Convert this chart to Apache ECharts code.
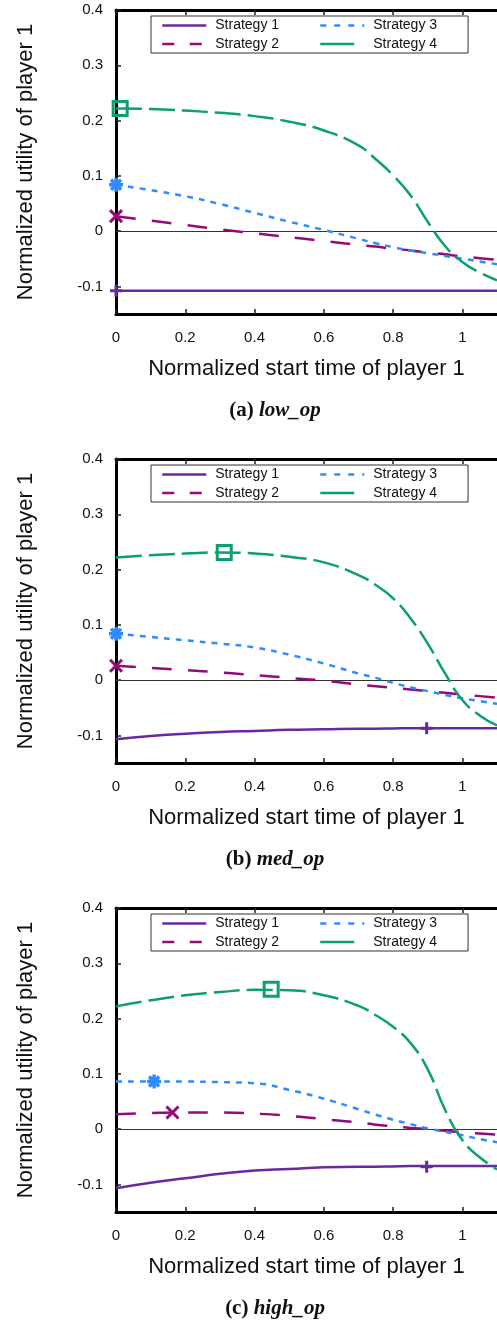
<!DOCTYPE html>
<html>
<head>
<meta charset="utf-8">
<title>Normalized utility of player 1</title>
<script src="https://cdn.jsdelivr.net/npm/echarts@6/dist/echarts.min.js"></script>
<style>
  html, body { margin: 0; padding: 0; background: #ffffff; }
  #chart { width: 497px; height: 1327px; }
</style>
</head>
<body>
<div id="chart"></div>
<script>
// Sample positions along the normalized start time axis (shared by every curve)
const startTimes = [0, 0.1, 0.2, 0.3, 0.4, 0.5, 0.6, 0.7, 0.75, 0.8, 0.85, 0.9, 0.95, 1.0, 1.05, 1.1];

// Tick labels
const xTickValues = [0, 0.2, 0.4, 0.6, 0.8, 1];
const yTickValues = [-0.1, 0, 0.1, 0.2, 0.3, 0.4];

const strategyNames = ['Strategy 1', 'Strategy 2', 'Strategy 3', 'Strategy 4'];

// (a) low_op
const lowS1 = [-0.108, -0.108, -0.108, -0.108, -0.108, -0.108, -0.108, -0.108, -0.108, -0.108, -0.108, -0.108, -0.108, -0.108, -0.108, -0.108];
const lowS2 = [0.027, 0.019, 0.011, 0.003, -0.004, -0.011, -0.018, -0.025, -0.028, -0.032, -0.035, -0.039, -0.042, -0.046, -0.049, -0.052];
const lowS3 = [0.084, 0.074, 0.063, 0.049, 0.033, 0.017, 0.002, -0.014, -0.022, -0.029, -0.035, -0.040, -0.045, -0.050, -0.055, -0.060];
const lowS4 = [0.222, 0.221, 0.218, 0.214, 0.208, 0.198, 0.182, 0.155, 0.130, 0.101, 0.065, 0.017, -0.027, -0.056, -0.075, -0.089];
// best start time of each strategy: [x, y] for strategies 1..4
const lowBest = [[0, -0.108], [0, 0.027], [0, 0.084], [0.012, 0.222]];

// (b) med_op
const medS1 = [-0.107, -0.101, -0.097, -0.094, -0.092, -0.090, -0.089, -0.088, -0.088, -0.0875, -0.087, -0.087, -0.087, -0.087, -0.087, -0.087];
const medS2 = [0.026, 0.022, 0.018, 0.014, 0.009, 0.004, -0.001, -0.008, -0.011, -0.014, -0.017, -0.020, -0.023, -0.026, -0.029, -0.032];
const medS3 = [0.084, 0.078, 0.072, 0.066, 0.059, 0.046, 0.030, 0.012, 0.004, -0.005, -0.013, -0.020, -0.027, -0.033, -0.038, -0.043];
const medS4 = [0.222, 0.226, 0.229, 0.231, 0.229, 0.223, 0.213, 0.190, 0.172, 0.148, 0.112, 0.066, 0.012, -0.036, -0.064, -0.082];
const medBest = [[0.897, -0.087], [0, 0.026], [0, 0.084], [0.3125, 0.231]];

// (c) high_op
const highS1 = [-0.107, -0.097, -0.089, -0.081, -0.075, -0.072, -0.069, -0.068, -0.068, -0.0675, -0.067, -0.067, -0.067, -0.067, -0.067, -0.067];
const highS2 = [0.027, 0.029, 0.030, 0.030, 0.028, 0.024, 0.018, 0.012, 0.008, 0.005, 0.002, 0.000, -0.003, -0.006, -0.008, -0.010];
const highS3 = [0.086, 0.086, 0.086, 0.085, 0.083, 0.071, 0.055, 0.036, 0.026, 0.017, 0.009, 0.001, -0.005, -0.011, -0.018, -0.024];
const highS4 = [0.222, 0.233, 0.242, 0.248, 0.252, 0.251, 0.242, 0.223, 0.206, 0.185, 0.156, 0.108, 0.035, -0.020, -0.051, -0.073];
const highBest = [[0.897, -0.068], [0.163, 0.030], [0.11, 0.086], [0.448, 0.253]];

const panels = [
  { tag: '(a) ', label: 'low_op',  curves: [lowS1, lowS2, lowS3, lowS4],     best: lowBest },
  { tag: '(b) ', label: 'med_op',  curves: [medS1, medS2, medS3, medS4],     best: medBest },
  { tag: '(c) ', label: 'high_op', curves: [highS1, highS2, highS3, highS4], best: highBest }
];

// ---- styling and layout ----
const SANS = 'Liberation Sans, Arial, sans-serif';
const SERIF = 'Liberation Serif, Times New Roman, serif';
const colors = ['#6a28a0', '#960a78', '#2f8cff', '#0aa073'];
const curveDash = ['solid', [20, 16], [6, 6], [26, 7]];
const legendDash = ['solid', [12, 15.5], [6, 8], [34, 20]];

// stroked marker shapes: plus, cross, asterisk, open square
const markerSymbols = [
  'path://M0,-5L0,5M-5,0L5,0',
  'path://M-5,-5L5,5M-5,5L5,-5',
  'path://M0,-6L0,6M-6,0L6,0M-4.3,-4.3L4.3,4.3M-4.3,4.3L4.3,-4.3',
  'path://M-6,-6L6,-6L6,6L-6,6Z'
];
const markerSizes = [12, 12, 14, 14];
const markerStroke = [3, 3, 3.5, 3];

const PANEL_STEP = 449;
const GRID_TOP = 10;
const GRID_LEFT = 116;
const GRID_W = 387;
const GRID_H = 304;
const captionTops = [400, 849, 1298];

const option = {
  backgroundColor: '#ffffff',
  animation: false,
  grid: [], xAxis: [], yAxis: [], legend: [], series: [], graphic: []
};

panels.forEach((panel, p) => {
  const top = GRID_TOP + p * PANEL_STEP;
  option.grid.push({ left: GRID_LEFT, top: top, width: GRID_W, height: GRID_H, show: false, containLabel: false });

  const axisLine = { show: true, onZero: false, lineStyle: { color: '#000', width: 3 } };
  const tick = { show: true, inside: true, length: 5, lineStyle: { color: '#222', width: 1.5 } };

  // bottom x axis (data axis)
  option.xAxis.push({
    gridIndex: p, type: 'value', min: 0, max: 1.1, position: 'bottom',
    axisLine: axisLine,
    axisTick: Object.assign({ customValues: xTickValues }, tick),
    axisLabel: {
      customValues: xTickValues, margin: 16, fontSize: 15, color: '#111', fontFamily: SANS,
      formatter: v => (v === 0 ? '0' : v === 1 ? '1' : v.toFixed(1))
    },
    splitLine: { show: false },
    name: 'Normalized start time of player 1', nameLocation: 'middle', nameGap: 44,
    nameTextStyle: { fontSize: 22, color: '#111', fontFamily: SANS }
  });
  // top frame axis with ticks only
  option.xAxis.push({
    gridIndex: p, type: 'value', min: 0, max: 1.1, position: 'top',
    axisLine: axisLine,
    axisTick: Object.assign({ customValues: xTickValues }, tick),
    axisLabel: { show: false },
    splitLine: { show: false }
  });
  option.yAxis.push({
    gridIndex: p, type: 'value', min: -0.15, max: 0.4,
    axisLine: axisLine,
    axisTick: Object.assign({ customValues: yTickValues }, tick),
    axisLabel: {
      customValues: yTickValues, margin: 13, fontSize: 15, color: '#111', fontFamily: SANS,
      formatter: v => (v === 0 ? '0' : v.toFixed(1))
    },
    splitLine: { show: false },
    name: 'Normalized utility of player 1', nameLocation: 'middle', nameGap: 79,
    nameTextStyle: { fontSize: 22, color: '#111', fontFamily: SANS }
  });

  // legend: left column carries the framed box, right column sits on top of it
  const legendItem = i => ({
    name: strategyNames[i],
    lineStyle: { type: legendDash[i], width: 2.5 },
    itemStyle: { opacity: 0, color: 'transparent', borderColor: 'transparent', borderWidth: 0 }
  });
  const legendCommon = {
    orient: 'vertical', top: top + 6, itemWidth: 44, itemHeight: 14, itemGap: 4.5,
    selectedMode: false,
    textStyle: { fontSize: 14, color: '#111', fontFamily: SANS, padding: [0, 0, 0, 4] }
  };
  option.legend.push(Object.assign({}, legendCommon, {
    left: 151, padding: [2.5, 189, 2, 10],
    borderColor: '#333', borderWidth: 1, backgroundColor: '#ffffff',
    data: [0, 1].map(legendItem)
  }));
  option.legend.push(Object.assign({}, legendCommon, {
    left: 319, padding: [2.5, 0, 2, 0],
    data: [2, 3].map(legendItem)
  }));

  // curves
  panel.curves.forEach((vals, s) => {
    const series = {
      name: strategyNames[s], type: 'line',
      xAxisIndex: p * 2, yAxisIndex: p,
      data: startTimes.map((x, i) => [x, vals[i]]),
      symbol: 'none', smooth: 0.5,
      lineStyle: { color: colors[s], width: 2.5, type: curveDash[s] },
      itemStyle: { color: colors[s] },
      z: 3 + s
    };
    if (s === 0) {
      series.markLine = {
        silent: true, symbol: ['none', 'none'], label: { show: false },
        lineStyle: { color: '#333', width: 1.2, type: 'solid' },
        data: [{ yAxis: 0 }], z: 2
      };
    }
    option.series.push(series);
  });

  // best start time markers
  panel.best.forEach((pt, s) => {
    option.series.push({
      type: 'scatter', xAxisIndex: p * 2, yAxisIndex: p,
      data: [pt], symbol: markerSymbols[s], symbolSize: markerSizes[s],
      itemStyle: { color: 'transparent', borderColor: colors[s], borderWidth: markerStroke[s], opacity: 1 },
      silent: true, z: 10
    });
  });

  // caption
  option.graphic.push({
    type: 'text', x: 275, y: captionTops[p], z: 20,
    style: {
      text: '{n|' + panel.tag + '}{o|' + panel.label + '}',
      align: 'center', verticalAlign: 'top',
      rich: {
        n: { fontFamily: SERIF, fontWeight: 'bold', fontSize: 21, fill: '#111', color: '#111' },
        o: { fontFamily: SERIF, fontWeight: 'bold', fontStyle: 'italic', fontSize: 21, fill: '#111', color: '#111' }
      }
    }
  });
});

const chart = echarts.init(document.getElementById('chart'), null, { renderer: 'canvas' });
chart.setOption(option);
</script>
</body>
</html>
